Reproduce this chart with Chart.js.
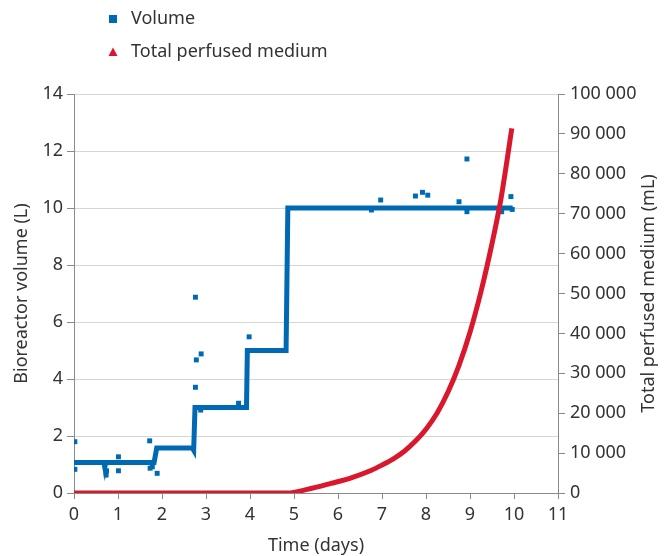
<!DOCTYPE html>
<html>
<head>
<meta charset="utf-8">
<script src="https://cdn.jsdelivr.net/npm/chart.js@4/dist/chart.umd.min.js"></script>
<style>
  html, body { margin: 0; padding: 0; background: #fff; }
  canvas { display: block; }
</style>
</head>
<body>
<canvas id="chart" width="670" height="556"></canvas>
<script>
// volume set point (step line)
const volTime = [0, 0.68, 0.7, 0.72, 1.82, 1.88, 2.69, 2.72, 2.75, 3.92, 3.94, 4.82, 4.86, 6.7, 8.9, 9.97];
const volValue = [1.07, 1.07, 0.9, 1.07, 1.07, 1.58, 1.58, 1.5, 3.0, 3.0, 5.0, 5.0, 10.0, 10.0, 10.0, 10.0];

// single volume readings
const volPtTime = [0.02, 0.02, 0.73, 0.74, 1.01, 1.01, 1.72, 1.73, 1.78, 1.89, 2.76, 2.76, 2.78, 2.89, 2.88, 3.74, 3.98,
                   6.76, 6.97, 7.76, 7.92, 8.04, 8.75, 8.93, 8.93, 9.72, 9.93, 9.96];
const volPtValue = [1.8, 0.83, 0.63, 0.78, 1.27, 0.78, 1.83, 0.87, 0.92, 0.69, 6.87, 3.71, 4.67, 4.88, 2.91, 3.15, 5.48,
                    9.93, 10.28, 10.42, 10.55, 10.45, 10.22, 11.72, 9.87, 9.87, 10.4, 9.95];

// total perfused medium (mL)
const medTime = [0, 4.85, 5.3, 5.84, 6.3, 6.76, 7.0, 7.25, 7.5, 7.75, 8.0, 8.25, 8.5, 8.75, 9.0, 9.25, 9.5, 9.7, 9.85, 9.95];
const medValue = [0, 0, 900, 2400, 3800, 5700, 7000, 8500, 10400, 12900, 16000, 20000, 25300, 32000, 40300, 50500, 62500, 73500, 84000, 91400];

const legendNames = ["Volume", "Total perfused medium"];
const xTitle = "Time (days)";
const yTitle = "Bioreactor volume (L)";
const y2Title = "Total perfused medium (mL)";

const BLUE = "#0069b4";
const RED = "#d9182d";
const TXT = "#333333";
const AXIS = "#8a8a8a";
const FONT = '"Noto Sans", sans-serif';

const pts = (xs, ys) => xs.map((x, i) => ({ x: x, y: ys[i] }));

// titles + legend drawn by hand so they sit like the original
const decor = {
  id: "decor",
  afterDraw(c) {
    const ctx = c.ctx;
    const a = c.chartArea;
    ctx.save();
    ctx.fillStyle = TXT;
    ctx.font = "18px " + FONT;
    ctx.textBaseline = "middle";

    // legend
    ctx.textAlign = "left";
    ctx.fillStyle = BLUE;
    ctx.fillRect(109, 15, 8, 8);
    ctx.fillStyle = RED;
    ctx.beginPath();
    ctx.moveTo(113, 47.5);
    ctx.lineTo(117.5, 56);
    ctx.lineTo(108.5, 56);
    ctx.closePath();
    ctx.fill();
    ctx.fillStyle = TXT;
    ctx.fillText(legendNames[0], 131, 19);
    ctx.fillText(legendNames[1], 131, 52);

    // axis titles
    ctx.textAlign = "center";
    ctx.fillText(xTitle, (a.left + a.right) / 2, 546);
    const mid = (a.top + a.bottom) / 2;
    ctx.save();
    ctx.translate(22, mid);
    ctx.rotate(-Math.PI / 2);
    ctx.fillText(yTitle, 0, 0);
    ctx.restore();
    ctx.save();
    ctx.translate(649, mid);
    ctx.rotate(-Math.PI / 2);
    ctx.fillText(y2Title, 0, 0);
    ctx.restore();
    ctx.restore();
  }
};

Chart.defaults.font.family = FONT;
Chart.defaults.font.size = 18;
Chart.defaults.color = TXT;

new Chart(document.getElementById("chart"), {
  type: "line",
  data: {
    datasets: [
      {
        label: legendNames[1],
        data: pts(medTime, medValue),
        yAxisID: "y2",
        borderColor: RED,
        borderWidth: 5,
        pointRadius: 0,
        cubicInterpolationMode: "monotone",
        order: 0
      },
      {
        label: legendNames[0],
        data: pts(volTime, volValue),
        yAxisID: "y",
        borderColor: BLUE,
        borderWidth: 5,
        pointRadius: 0,
        tension: 0,
        order: 1
      },
      {
        label: legendNames[0] + " readings",
        data: pts(volPtTime, volPtValue),
        yAxisID: "y",
        showLine: false,
        pointStyle: "rect",
        pointRadius: 3.5,
        pointBackgroundColor: BLUE,
        pointBorderWidth: 0,
        order: 2
      }
    ]
  },
  options: {
    responsive: false,
    animation: false,
    layout: { padding: { top: 94, left: 0, right: 0, bottom: 0 } },
    plugins: {
      legend: { display: false },
      tooltip: { enabled: false }
    },
    scales: {
      x: {
        type: "linear",
        min: 0,
        max: 11,
        ticks: { stepSize: 1, padding: 5, maxRotation: 0 },
        grid: { drawOnChartArea: false, tickLength: 6, tickColor: AXIS },
        border: { color: AXIS },
        afterFit: s => { s.height = 63; }
      },
      y: {
        position: "left",
        min: 0,
        max: 14,
        ticks: { stepSize: 2, padding: 4 },
        grid: { color: "#d6d6d6", tickLength: 7, tickColor: AXIS },
        border: { color: AXIS },
        afterFit: s => { s.width = 74; }
      },
      y2: {
        position: "right",
        min: 0,
        max: 100000,
        ticks: {
          stepSize: 10000,
          padding: 5,
          callback: v => String(v).replace(/\B(?=(\d{3})+(?!\d))/g, " ")
        },
        grid: { drawOnChartArea: false, tickLength: 7, tickColor: AXIS },
        border: { color: AXIS },
        afterFit: s => { s.width = 112; }
      }
    }
  },
  plugins: [decor]
});
</script>
</body>
</html>
